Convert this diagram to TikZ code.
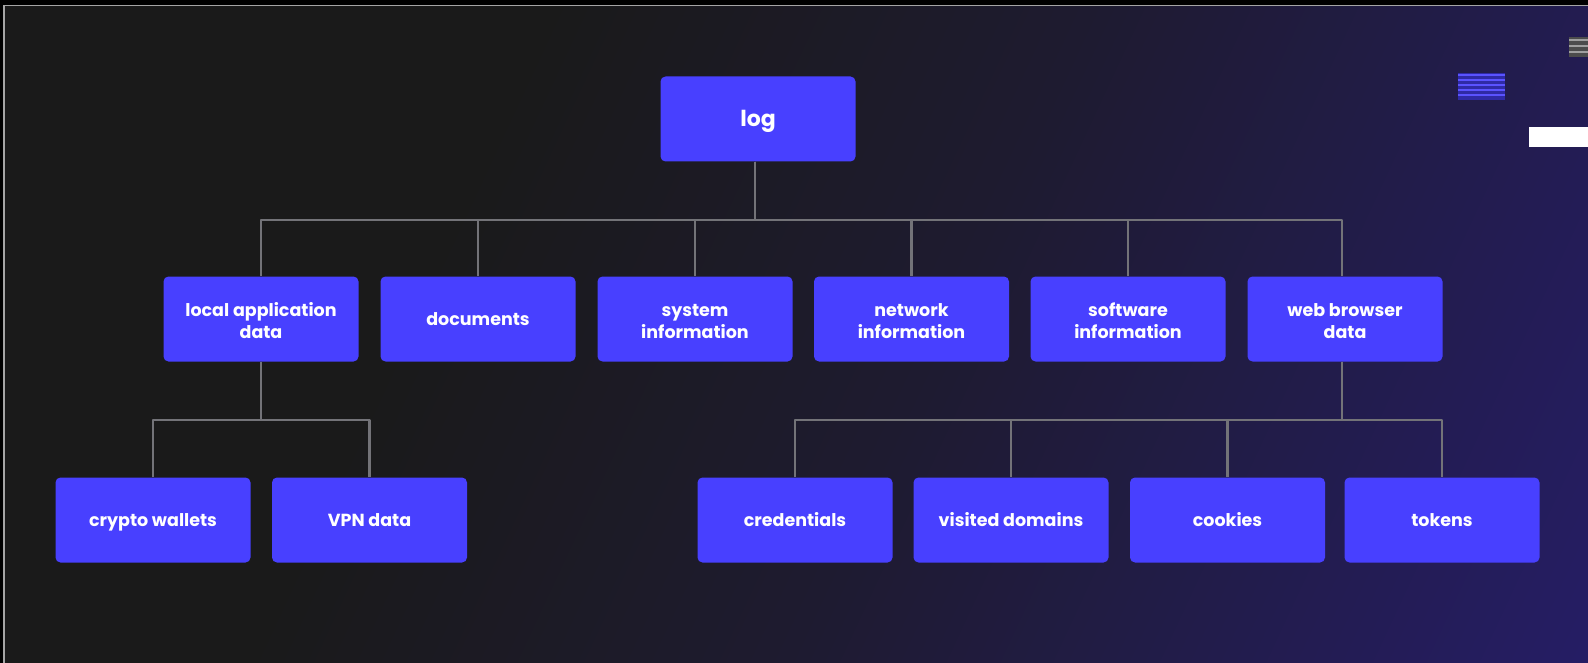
\documentclass[tikz,border=0pt]{standalone}
\usepackage{fontspec}
\setmainfont{Poppins}
\usetikzlibrary{positioning}

\definecolor{boxblue}{RGB}{72,64,255}
\definecolor{linegray}{RGB}{115,115,120}
\definecolor{bgdark}{RGB}{26,26,26}
\definecolor{bgmid}{RGB}{30,27,48}
\definecolor{bgpurple}{RGB}{42,30,132}
\definecolor{framegray}{RGB}{165,165,165}

\pgfdeclarehorizontalshading{bgshade}{100bp}{color(0bp)=(bgdark); color(36bp)=(bgdark); color(55bp)=(bgmid); color(100bp)=(bgpurple)}

\newcommand{\boxstrut}{\rule[-6pt]{0pt}{24pt}}
\newcommand{\logstrut}{\rule[-6pt]{0pt}{28pt}}
\newcommand{\topstrut}{\rule{0pt}{22pt}}

\tikzset{
  box/.style={fill=boxblue, rounded corners=5pt, minimum width=195pt, minimum height=85pt,
    text=white, font=\bfseries\fontsize{17.5}{22}\selectfont, align=center, inner sep=0pt,
    execute at begin node=\boxstrut, execute at end node=\boxstrut},
  link/.style={draw=linegray, line width=2.2pt}
}

\begin{document}
\begin{tikzpicture}[x=1pt, y=-1pt, line join=round]
  \useasboundingbox (0,0) rectangle (1588,663);

  % 1. Nen va khung
  \fill[black] (0,0) rectangle (1588,663);
  \fill[framegray] (3,5) rectangle (1588,663);
  \shade[shading=bgshade, shading angle=-25] (5,7) rectangle (1588,663);

  % 2. Cac vet sot lai goc phai tren
  \fill[gray!60!black] (1569,37) rectangle (1588,57);
  \foreach \s in {39,45,51} {
    \fill[gray!75] (1569,\s) rectangle (1588,\s+2.5);
  }
  \fill[boxblue!65!black] (1458,73) rectangle (1505,100);
  \foreach \s in {74,79,84,89,94} {
    \fill[boxblue!90!white] (1458,\s) rectangle (1505,\s+2.5);
  }
  \fill[white] (1529,127) rectangle (1588,147);

  % 3. Cac hop
  \node[box, font=\bfseries\fontsize{22}{26}\selectfont,
        execute at begin node=\logstrut, execute at end node=\logstrut] (log) at (758,119) {log};

  \node[box] (loc)  at (261,319)    {\topstrut local application\\data};
  \node[box] (doc)  at (478,319)    {documents};
  \node[box] (sys)  at (695,319)    {\topstrut system\\information};
  \node[box] (net)  at (911.5,319)  {\topstrut network\\information};
  \node[box] (soft) at (1128,319)   {\topstrut software\\information};
  \node[box] (web)  at (1345,319)   {\topstrut web browser\\data};

  \node[box] (wal)  at (153,520)    {crypto wallets};
  \node[box] (vpn)  at (369.5,520)  {VPN data};
  \node[box] (cred) at (795,520)    {credentials};
  \node[box] (dom)  at (1011,520)   {visited domains};
  \node[box] (cook) at (1227.5,520) {cookies};
  \node[box] (tok)  at (1442,520)   {tokens};

  % 4. Cac duong noi
  \coordinate (bus1) at (0,220);
  \coordinate (bus2) at (0,420);
  \foreach \c in {loc,doc,sys,net,soft} {
    \draw[link] ([xshift=-3pt]log.south) -- ([xshift=-3pt]log.south |- bus1) -| (\c.north);
  }
  \draw[link] ([xshift=-3pt]log.south) -- ([xshift=-3pt]log.south |- bus1) -| ([xshift=-3pt]web.north);
  \foreach \c in {wal,vpn} {
    \draw[link] (loc.south) -- (loc.south |- bus2) -| (\c.north);
  }
  \foreach \c in {cred,dom,cook,tok} {
    \draw[link] ([xshift=-3pt]web.south) -- ([xshift=-3pt]web.south |- bus2) -| (\c.north);
  }
\end{tikzpicture}
\end{document}
